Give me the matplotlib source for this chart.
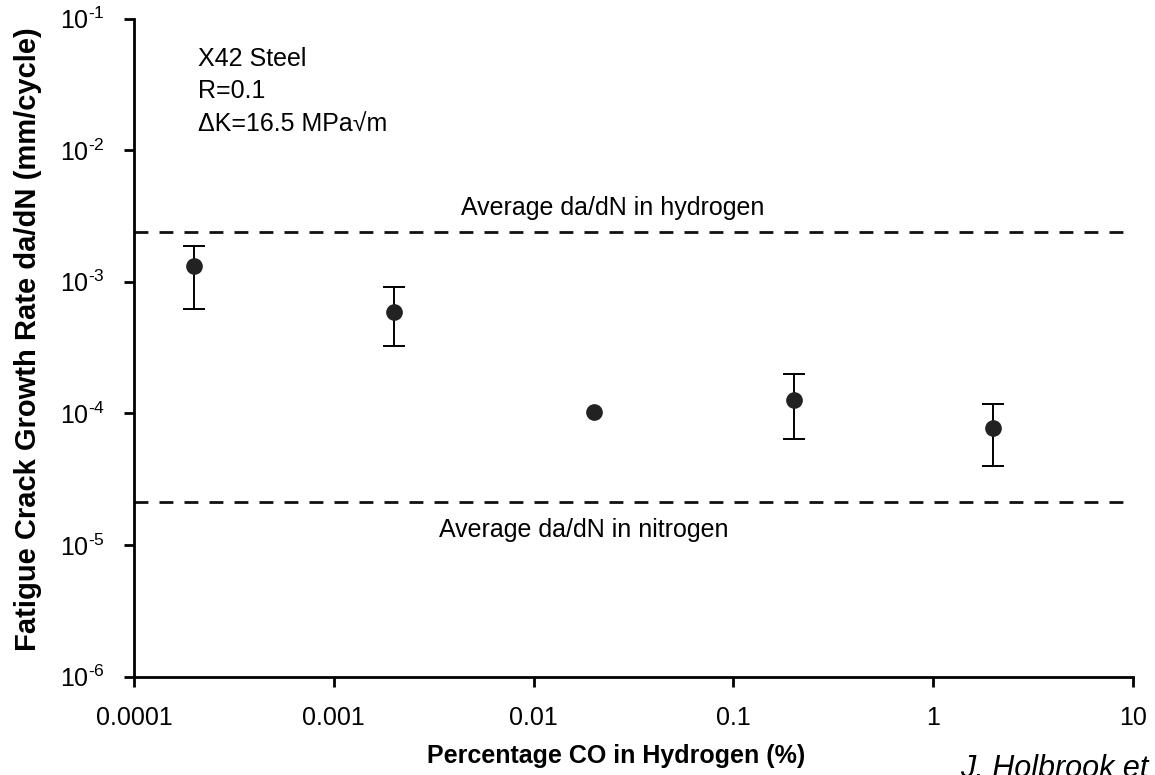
import matplotlib
matplotlib.use("Agg")
import matplotlib.pyplot as plt
import numpy as np

plt.rcParams['font.family'] = ['Liberation Sans', 'DejaVu Sans']
plt.rcParams['mathtext.fontset'] = 'custom'
plt.rcParams['mathtext.rm'] = 'Liberation Sans'
plt.rcParams['mathtext.it'] = 'Liberation Sans:italic'

# Data
co_percent = [0.0002, 0.002, 0.02, 0.2, 2]
growth_rate = [1.32e-3, 5.85e-4, 1.02e-4, 1.26e-4, 7.7e-5]
err_upper = [1.88e-3, 9.2e-4, np.nan, 1.99e-4, 1.17e-4]
err_lower = [6.2e-4, 3.25e-4, np.nan, 6.4e-5, 4.0e-5]

avg_hydrogen = 2.37e-3
avg_nitrogen = 2.11e-5

x_ticks = [0.0001, 0.001, 0.01, 0.1, 1, 10]
x_tick_labels = ["0.0001", "0.001", "0.01", "0.1", "1", "10"]
y_ticks = [1e-6, 1e-5, 1e-4, 1e-3, 1e-2, 1e-1]
y_tick_labels = [r"$10^{\text{-}%d}$" % k for k in [6, 5, 4, 3, 2, 1]]

fig = plt.figure(figsize=(11.55, 7.75), dpi=100)
ax = fig.add_axes([0.116, 0.127, 0.865, 0.849])

x = np.array(co_percent)
y = np.array(growth_rate)
up = np.array(err_upper)
lo = np.array(err_lower)
has_err = ~np.isnan(up)

# points with error bars (the 0.02 % point has none)
ax.errorbar(x[has_err], y[has_err], yerr=[y[has_err] - lo[has_err], up[has_err] - y[has_err]],
            fmt='none', ecolor='black', elinewidth=1.4, capsize=8, capthick=1.4)
ax.plot(x, y, 'o', color='#222222', markersize=11)

ax.axhline(avg_hydrogen, color='#111111', linestyle=(0, (5, 4)), linewidth=2)
ax.axhline(avg_nitrogen, color='#111111', linestyle=(0, (5, 4)), linewidth=2)

ax.set_xscale('log')
ax.set_yscale('log')
ax.set_xlim(0.0001, 10)
ax.set_ylim(1e-6, 1e-1)
ax.set_xticks(x_ticks)
ax.set_xticklabels(x_tick_labels)
ax.set_yticks(y_ticks)
ax.set_yticklabels(y_tick_labels)
ax.minorticks_off()

ax.spines['top'].set_visible(False)
ax.spines['right'].set_visible(False)
ax.spines['left'].set_linewidth(2)
ax.spines['bottom'].set_linewidth(2)
ax.tick_params(axis='both', direction='out', length=7, width=2, labelsize=18, pad=14)

ax.set_xlabel("Percentage CO in Hydrogen (%)", fontsize=18, fontweight='bold')
ax.xaxis.set_label_coords(0.4825, -0.103)
ax.set_ylabel("Fatigue Crack Growth Rate da/dN (mm/cycle)", fontsize=21, fontweight='bold')
ax.yaxis.set_label_coords(-0.092, 0.513)

ax.text(0.00021, 0.061, "X42 Steel\nR=0.1\n\u0394K=16.5 MPa\u221am", fontsize=18,
        va='top', ha='left', linespacing=1.45)
ax.text(0.025, 3.65e-3, "Average da/dN in hydrogen", fontsize=18, ha='center', va='center')
ax.text(0.0179, 1.3e-5, "Average da/dN in nitrogen", fontsize=18, ha='center', va='center')

fig.text(0.831, 0.008, "J. Holbrook et al.", fontsize=22, style='italic', ha='left', va='center')

fig.savefig("out.png", dpi=100)
